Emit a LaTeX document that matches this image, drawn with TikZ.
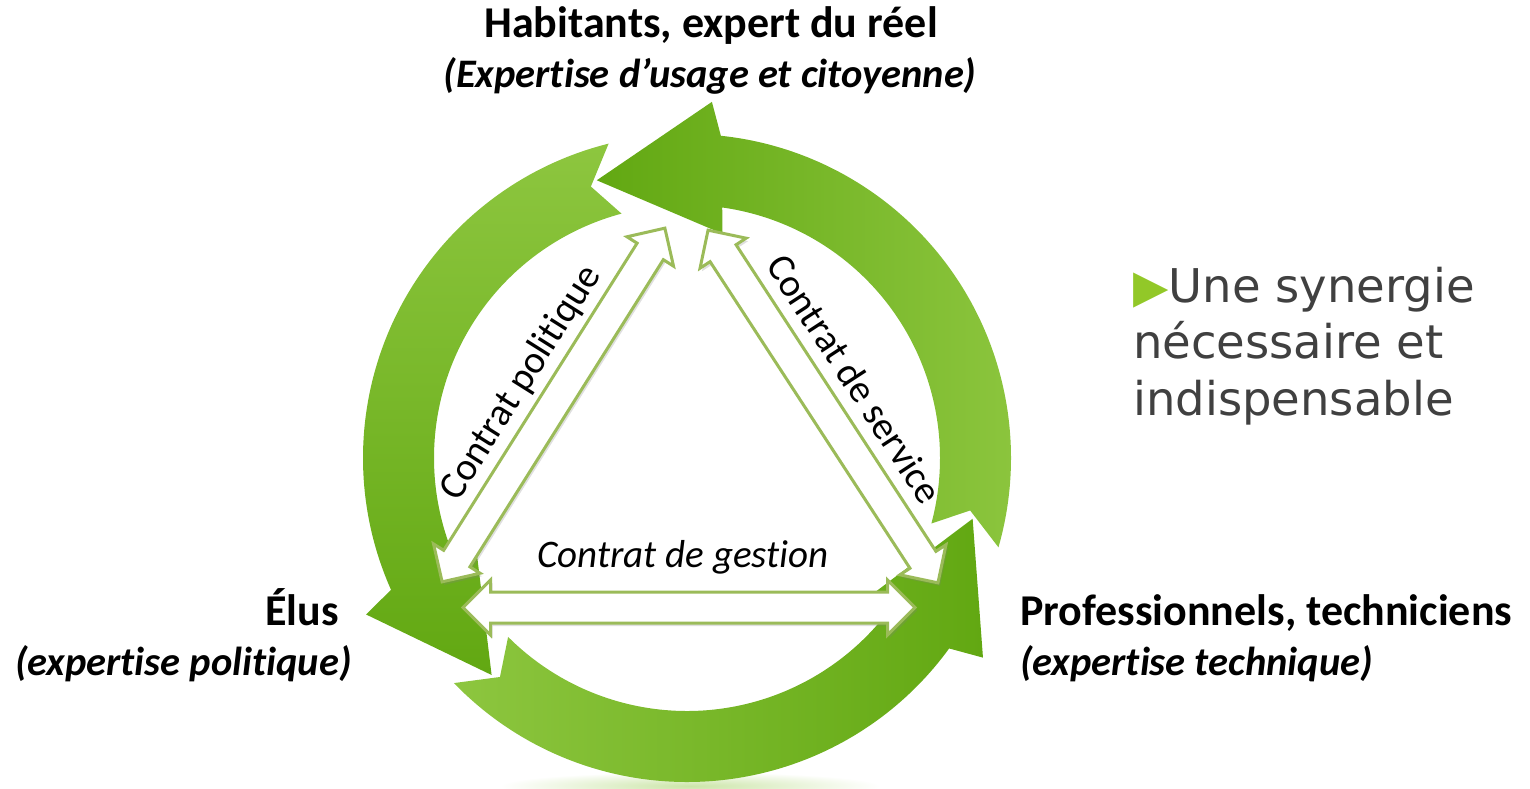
\documentclass[tikz,border=0pt]{standalone}
\usepackage{fontspec}
\setmainfont{Carlito}[Ligatures = NoCommon]
\newfontfamily\tahoma{DejaVu Sans}
\usepackage{xcolor}
\usepackage{tikz}
\usetikzlibrary{shapes.arrows, shadows}
\definecolor{lgreen}{RGB}{141, 198, 63}
\definecolor{dgreen}{RGB}{98, 168, 18}
\definecolor{egreen}{RGB}{155, 187, 89}
\definecolor{tgray}{RGB}{64, 64, 64}
\definecolor{bgreen}{RGB}{146, 200, 40}

\begin{document}
\begin{tikzpicture}[x = 1pt, y = 1pt,
	ring/.style = {draw = none},
	twoway/.style = {double arrow, draw = egreen, line width = 3pt, fill = white, inner sep = 0pt, text height = 14pt, text depth = 14pt, minimum width = 52pt, double arrow head extend = 12pt, drop shadow = {shadow xshift = 2pt, shadow yshift = -3pt, opacity = 0.25}},
	contrat/.style = {inner sep = 0pt, font = \fontsize{39}{39}\selectfont},
	actor/.style = {inner sep = 0pt, font = \fontsize{44}{44}\selectfont\bfseries},
	role/.style = {inner sep = 0pt, font = \fontsize{40.5}{40.5}\selectfont\bfseries\itshape},
	slogan/.style = {inner sep = 0pt, font = \tahoma\fontsize{46.5}{46.5}\selectfont, text = tgray}]
			\useasboundingbox (0,0) rectangle (1530,-789);
			% faint glow under the cycle
			\shade[inner color = lgreen!45, outer color = white] (690,-786) ellipse [x radius = 190, y radius = 14];
			% the three curved arrows of the cycle
			\begin{scope}[shift = {(687,-458)}]
			\shade[ring, left color = dgreen, right color = lgreen] (-16:324) arc [start angle = -16, end angle = 84, radius = 324] -- (86:357) -- (108:292) -- (81:227) -- (82:253) arc [start angle = 82, end angle = -15, radius = 253] -- (-10.5:288) -- cycle;
			\shade[ring, top color = lgreen, bottom color = dgreen] (104:324) arc [start angle = 104, end angle = 204, radius = 324] -- (206:357) -- (228:292) -- (201:227) -- (202:253) arc [start angle = 202, end angle = 105, radius = 253] -- (109.5:288) -- cycle;
			\shade[ring, left color = lgreen, right color = dgreen] (224:324) arc [start angle = 224, end angle = 324, radius = 324] -- (326:357) -- (348:292) -- (321:227) -- (322:253) arc [start angle = 322, end angle = 225, radius = 253] -- (229.5:288) -- cycle;
			\end{scope}
			% the three contracts
			\node (flpol) at (553.5,-405) [twoway, minimum height = 418pt, rotate = 57.8] {};
			\node (flserv) at (823,-406.5) [twoway, minimum height = 421pt, rotate = -56.9] {};
			\node (flgest) at (689,-607.5) [twoway, minimum height = 452pt] {};
			\node (cpol) at (521,-383) [contrat, rotate = 57.8] {Contrat politique};
			\node (cserv) at (855,-379) [contrat, rotate = -56.9] {Contrat de service};
			\node (cgest) at (683,-567) [contrat, anchor = base] {\itshape Contrat de gestion};
			% the three actors
			\node (hab) at (711,-38) [actor, anchor = base] {Habitants, expert du réel};
			\node (habexp) at (710,-88) [role, anchor = base] {(Expertise d’usage et citoyenne)};
			\node (elus) at (339,-625) [actor, anchor = base east] {Élus};
			\node (elusexp) at (15,-675) [role, anchor = base west] {(expertise politique)};
			\node (pro) at (1020,-625) [actor, anchor = base west] {Professionnels, techniciens};
			\node (proexp) at (1020,-675) [role, anchor = base west] {(expertise technique)};
			% slogan
			\node (syn1) at (1133,-302) [slogan, anchor = base west] {{\fontsize{46}{46}\selectfont\color{bgreen}▶}Une synergie};
			\node (syn2) at (1133,-358.5) [slogan, anchor = base west] {nécessaire et};
			\node (syn3) at (1133,-415) [slogan, anchor = base west] {indispensable};
\end{tikzpicture}
\end{document}
